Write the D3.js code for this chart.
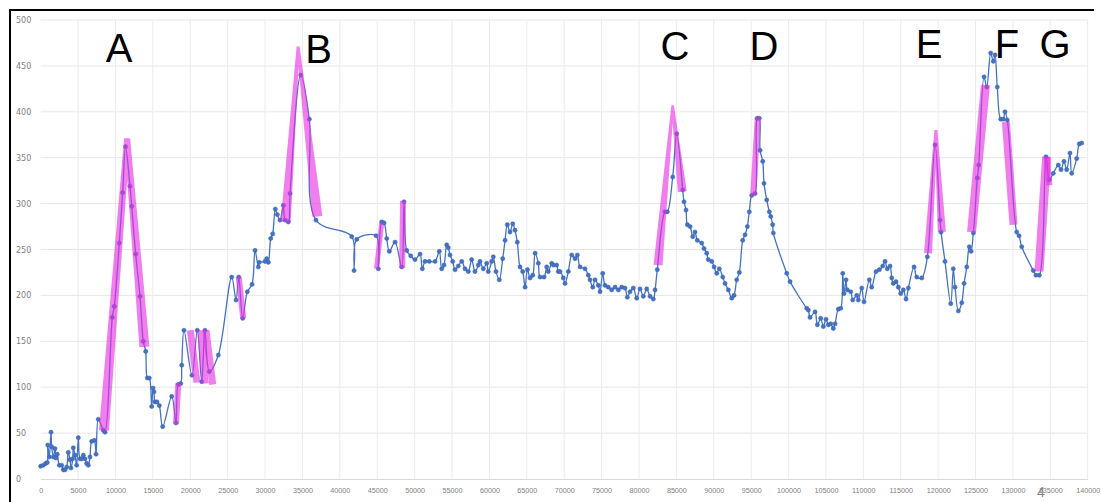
<!DOCTYPE html>
<html>
<head>
<meta charset="utf-8">
<script src="https://cdn.jsdelivr.net/npm/d3@7"></script>
<style>
  body { margin: 0; background: #fff; }
  svg { display: block; }
</style>
</head>
<body>
<script>
// tick labels
const xTicks = [0, 5000, 10000, 15000, 20000, 25000, 30000, 35000, 40000, 45000, 50000, 55000, 60000, 65000, 70000,
  75000, 80000, 85000, 90000, 95000, 100000, 105000, 110000, 115000, 120000, 125000, 130000, 135000, 140000];
const yTicks = [0, 50, 100, 150, 200, 250, 300, 350, 400, 450, 500];

// readings [x, value]
const stretchStart = [[0,14],[350,15],[670,17],[880,18],[940,37],[1150,24],[1380,51],[1470,35],[1690,24],[1910,33],
  [2050,23],[2220,27],[2490,15],[2810,15],[3020,10],[3250,10],[3480,13],[3690,29],[3920,21],[4050,12],[4280,22],
  [4360,34],[4590,26],[4810,15],[5030,45],[5260,22],[5480,22],[5700,26],[5920,22],[6150,17],[6370,15],[6590,24],
  [6820,41],[7170,42],[7400,27],[7700,65],[8370,53],[8600,51]];
const stretchA = [[9570,176],[9840,188],[10510,257],[10960,312],[11340,362],[11940,319],[12170,297],[12700,245],
  [13280,199],[13720,150],[14040,139],[14260,110],[14520,110],[14840,79],[15020,99],[15150,95],[15280,84],[15550,84],
  [15860,80],[16310,57],[17520,90],[18090,61],[18400,103],[18720,104],[18860,124],[19160,162],[20230,113],[20940,162],
  [21530,106],[21970,162],[22550,117],[23750,135]];
const stretchB = [[25540,220],[26120,195],[26480,220],[27010,175],[27630,204],[28260,212],[28660,249],[29100,231],
  [29230,236],[29990,237],[30220,240],[30440,236],[30760,262],[31020,267],[31370,294],[31640,288],[32000,282],
  [32440,298],[32670,282],[33110,280],[33340,311],[34770,440],[35920,392],[36810,282]];
const stretchFlat = [[41590,264],[41900,227],[42260,261],[44840,265],[45150,229],[45600,280],[45910,279],[46270,262],
  [46620,248],[47380,258],[48270,231],[48580,302],[48940,249],[49480,243],[50050,239],[50720,245],[51030,229],
  [51390,237],[51960,237],[52730,237],[53300,248],[53620,229],[53930,233],[54290,255],[54500,252],[54730,244],
  [55090,237],[55400,228],[55840,232],[56300,237],[56740,229],[57180,226],[57630,239],[58070,226],[58520,233],
  [58740,237],[59180,229],[59640,235],[59850,226],[60310,237],[60520,242],[60880,226],[61320,217],[61780,240],
  [62090,260],[62390,277],[62750,269],[63120,278],[63420,271],[63730,258],[64090,231],[64450,226],[64770,209],
  [65080,228],[65440,219],[65800,222],[66110,246],[66540,235],[66770,220],[67310,220],[67660,231],[67880,226],
  [68330,235],[68550,233],[68990,233],[69210,226],[69440,226],[69880,219],[70110,213],[70550,226],[71010,244],
  [71450,240],[71760,244],[72120,231],[72780,229],[73230,222],[73450,217],[73820,209],[74120,217],[74560,211],
  [74790,204],[75150,224],[75460,211],[75900,209],[76350,206],[76800,209],[77240,206],[77690,209],[78130,208],
  [78440,198],[78800,204],[79240,208],[79700,197],[80140,207],[80580,199],[81030,207],[81480,199],[81920,196],
  [82150,206],[82450,228]];
const stretchCD = [[83480,291],[83790,291],[84510,329],[85050,376],[85850,315],[86020,302],[86290,293],[86470,277],
  [86830,275],[87190,264],[87490,269],[87800,260],[88390,257],[88700,251],[89060,246],[89270,239],[89730,237],
  [90040,231],[90400,224],[90740,229],[91200,220],[91510,213],[91950,206],[92400,197],[92710,200],[93070,217],
  [93420,225],[93870,260],[94180,266],[94490,275],[94750,291],[95080,309],[95520,311],[95820,393],[96090,393],
  [96190,358],[96550,346],[96720,322],[97080,304],[97430,291],[97620,286],[97880,277],[97960,268],[99760,224],
  [100200,215],[102430,186],[102650,184],[102870,176],[103540,182],[103850,168],[104300,175],[104650,166],
  [105010,174],[105320,168],[105640,169],[105990,164],[106220,169],[106660,185],[106980,186],[107250,224],
  [107420,202],[107690,217],[107860,206],[108320,204],[108580,195],[109120,200],[109330,195],[109790,208],
  [110090,193],[110800,217],[111120,209],[111700,226],[112140,228],[112590,232],[112900,237],[113210,229],
  [113570,232],[113800,219],[114010,213],[114370,215],[114680,209],[115000,202],[115350,206],[115710,196],
  [116020,208],[116780,231],[117140,220],[117810,219]];
const stretchEFG = [[118560,242],[119590,364],[120260,282],[120390,269],[120920,237],[121690,191],[122030,229],
  [122260,209],[122700,183],[123160,192],[123470,213],[123830,231],[124170,253],[124400,248],[124710,268],
  [125240,328],[125430,342],[126140,438],[126500,427],[127030,464],[127380,455],[127610,462],[127910,427],
  [128370,392],[128720,392],[128940,400],[129250,391],[130510,269],[130820,265],[131180,253],[132730,227],
  [133090,222],[133530,222],[134420,351],[134870,326],[135400,333],[136070,342],[136430,337],[136830,346],
  [137190,337],[137630,355],[137860,333],[138530,349],[138880,365],[139200,366]];
const reading = [].concat(stretchStart, stretchA, stretchB, stretchFlat, stretchCD, stretchEFG);

// pink highlight strokes over the steep runs (3-point ones have a tip in the middle)
const bands = [
  [[8460,53],[11560,371],[13870,144]],
  [[18090,60],[18400,104]],
  [[20000,162],[20900,105]],
  [[21400,162],[22000,104]],
  [[22100,162],[23000,103]],
  [[26480,220],[27080,175]],
  [[32760,280],[34420,471],[37000,286]],
  [[44900,229],[45600,279]],
  [[48330,230],[48450,303]],
  [[82550,233],[84500,407],[85790,313]],
  [[95280,309],[95880,394]],
  [[118650,246],[119700,380],[120500,269]],
  [[124470,269],[126330,429]],
  [[129060,389],[130080,277]],
  [[133490,226],[134510,351]],
  [[134510,351],[134870,320]]
];
const bandWidth = [10, 6, 7, 7, 7, 6, 10, 5, 6, 9, 6, 8, 9, 8, 9, 6];
const bandTip = [6, 0, 0, 0, 0, 0, 3, 0, 0, 2.5, 0, 3, 0, 0, 0, 0];

const peakNames = ["A", "B", "C", "D", "E", "F", "G"];
const peakAt = [10470, 37150, 84820, 96720, 118790, 129210, 135630];
const peakBase = [62, 63, 60, 60, 58, 58, 58];

const W = 1101, H = 502;
const svg = d3.select("body").append("svg").attr("width", W).attr("height", H);

const x = d3.scaleLinear().domain([0, 140000]).range([40.7, 1087.7]);
const y = d3.scaleLinear().domain([0, 500]).range([479, 20]);

// grid
svg.append("g").selectAll("line").data(yTicks.slice(1)).join("line")
  .attr("x1", x(0)).attr("x2", x(140000))
  .attr("y1", d => y(d)).attr("y2", d => y(d))
  .attr("stroke", "#e6e6e6").attr("stroke-width", 1);
svg.append("g").selectAll("line").data(xTicks.slice(1)).join("line")
  .attr("x1", d => x(d)).attr("x2", d => x(d))
  .attr("y1", y(0)).attr("y2", y(500))
  .attr("stroke", "#ebebeb").attr("stroke-width", 1);

// axes
const xAxis = svg.append("g").attr("transform", `translate(0,${y(0)})`)
  .call(d3.axisBottom(x).tickValues(xTicks).tickSize(0).tickPadding(9).tickFormat(d3.format("d")));
xAxis.select(".domain").attr("stroke", "#d9d9d9");
xAxis.selectAll("text").attr("fill", "#808080").attr("font-size", 7.2).attr("font-family", "Liberation Sans, Arial, sans-serif");

const yAxis = svg.append("g").attr("transform", `translate(16,0)`)
  .call(d3.axisLeft(y).tickValues(yTicks).tickSize(0).tickPadding(0));
yAxis.select(".domain").remove();
yAxis.selectAll("text").attr("text-anchor", "start").attr("fill", "#808080")
  .attr("font-size", 8).attr("font-family", "DejaVu Sans, sans-serif");

// series line
const line = d3.line().x(d => x(d[0])).y(d => y(d[1])).curve(d3.curveCatmullRom.alpha(0.5));
svg.append("path").datum(reading).attr("d", line)
  .attr("fill", "none").attr("stroke", "#4472c4").attr("stroke-width", 1.3);

svg.append("g").selectAll("circle").data(reading).join("circle")
  .attr("cx", d => x(d[0])).attr("cy", d => y(d[1])).attr("r", 2.1)
  .attr("fill", "#4472c4").attr("stroke", "#3b63ad").attr("stroke-width", 0.5);

// highlights: each band is one filled path, segments as quads so overlaps are not darkened
function bandShape(pts, w, tip) {
  const p = pts.map(d => [x(d[0]), y(d[1])]);
  const tipped = p.length === 3 && tip > 0;
  let out = "";
  for (let i = 0; i < p.length - 1; i++) {
    const a = p[i], b = p[i + 1];
    let wa = w, wb = w;
    if (tipped) { if (i === 0) wb = tip; else wa = tip; }
    const len = Math.hypot(b[0] - a[0], b[1] - a[1]);
    const nx = -(b[1] - a[1]) / len, ny = (b[0] - a[0]) / len;
    let q = [
      [a[0] + nx * wa / 2, a[1] + ny * wa / 2],
      [b[0] + nx * wb / 2, b[1] + ny * wb / 2],
      [b[0] - nx * wb / 2, b[1] - ny * wb / 2],
      [a[0] - nx * wa / 2, a[1] - ny * wa / 2]
    ];
    if (d3.polygonArea(q) < 0) q = q.reverse();
    out += "M" + q.map(c => c[0].toFixed(2) + "," + c[1].toFixed(2)).join("L") + "Z";
  }
  return out;
}
svg.append("g").selectAll("path").data(bands).join("path")
  .attr("d", (d, i) => bandShape(d, bandWidth[i], bandTip[i]))
  .attr("fill", "#e62ee0").attr("fill-opacity", 0.62).attr("fill-rule", "nonzero");

// peak letters
svg.append("g").selectAll("text").data(peakNames).join("text")
  .attr("x", (d, i) => x(peakAt[i])).attr("y", (d, i) => peakBase[i])
  .attr("text-anchor", "middle").attr("font-family", "Liberation Sans, Arial, sans-serif")
  .attr("font-size", 40).attr("fill", "#000").text(d => d);

// page number
svg.append("text").attr("x", 1041).attr("y", 497).attr("text-anchor", "middle")
  .attr("font-family", "Liberation Sans, Arial, sans-serif").attr("font-size", 14).attr("fill", "#7f7f7f").text("4");

// frame
svg.append("path").attr("d", `M10,${H} V10 H1094`)
  .attr("fill", "none").attr("stroke", "#000").attr("stroke-width", 2);
</script>
</body>
</html>
